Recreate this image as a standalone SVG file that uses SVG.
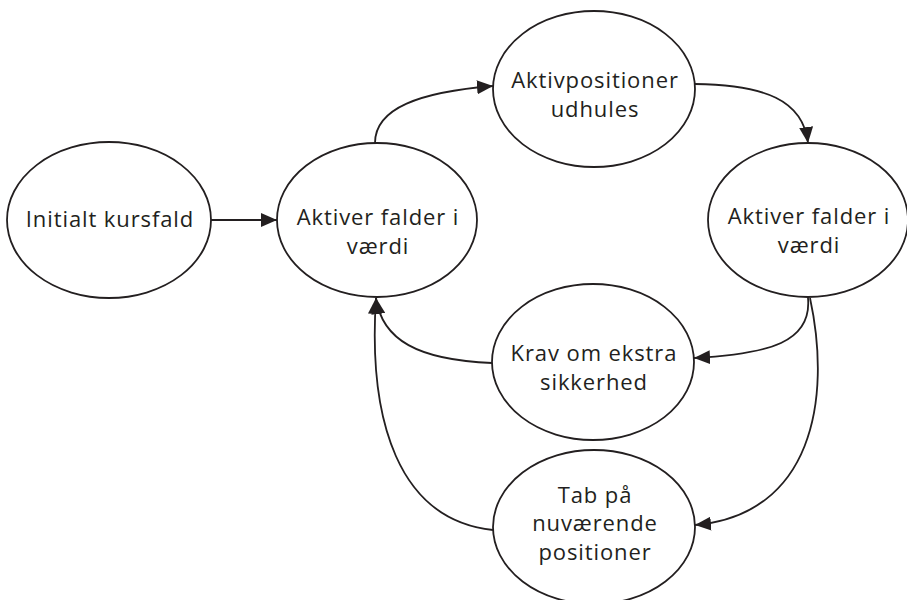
<svg xmlns="http://www.w3.org/2000/svg" width="907" height="600" viewBox="0 0 907 600">
<defs>
<style>
.n ellipse{fill:#fff;stroke:#231f20;stroke-width:1.8}
.n text{font-family:"Open Sans","Noto Sans",sans-serif;font-size:22px;letter-spacing:0.9px;fill:#231f20;text-anchor:middle}
.e path{fill:none;stroke:#231f20;stroke-width:1.8}
</style>
<marker id="ah" markerUnits="userSpaceOnUse" markerWidth="18" markerHeight="14" refX="16" refY="7" orient="auto">
<path d="M0,0 L16,7 L0,14 Z" fill="#231f20"/>
</marker>
</defs>
<rect width="907" height="600" fill="#fff"/>
<g class="e" id="connectors">
<path d="M211,220 L277,220" marker-end="url(#ah)"/>
<path d="M375,143 C375,108 420,92 493,86" marker-end="url(#ah)"/>
<path d="M695,84 C765,85 803,100 808,143" marker-end="url(#ah)"/>
<path d="M808,298 C812,342 770,354 694,358" marker-end="url(#ah)"/>
<path d="M810,298 C832,400 812,515 695,525" marker-end="url(#ah)"/>
<path d="M492,363 C418,360 382,340 376,298" marker-end="url(#ah)"/>
<path d="M493,530 C398,520 368,420 376,298" marker-end="url(#ah)"/>
</g>
<g class="n" id="n1"><ellipse cx="109" cy="220" rx="102" ry="78"/><text x="110" y="227">Initialt kursfald</text></g>
<g class="n" id="n2"><ellipse cx="377" cy="220" rx="100" ry="77"/><text x="378" y="225">Aktiver falder i</text><text x="378" y="254">værdi</text></g>
<g class="n" id="n3"><ellipse cx="594" cy="89" rx="101" ry="78"/><text x="595" y="88">Aktivpositioner</text><text x="595" y="117">udhules</text></g>
<g class="n" id="n4"><ellipse cx="808" cy="220" rx="100" ry="77"/><text x="809" y="224">Aktiver falder i</text><text x="809" y="253">værdi</text></g>
<g class="n" id="n5"><ellipse cx="593" cy="362" rx="101" ry="78"/><text x="594" y="361">Krav om ekstra</text><text x="594" y="390">sikkerhed</text></g>
<g class="n" id="n6"><ellipse cx="594" cy="527" rx="101" ry="77"/><text x="595" y="503">Tab på</text><text x="595" y="531">nuværende</text><text x="595" y="560">positioner</text></g>
</svg>
